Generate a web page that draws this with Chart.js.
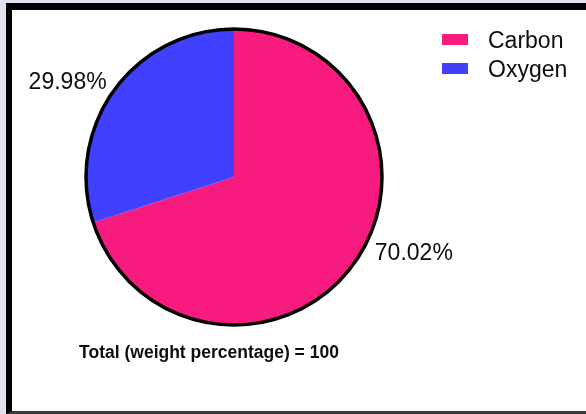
<!DOCTYPE html>
<html>
<head>
<meta charset="utf-8">
<script src="https://cdn.jsdelivr.net/npm/chart.js@4"></script>
<style>
    body { margin: 0; background: #dfe2ef; }
    .frame {
        position: absolute;
        left: 6px;
        top: 3px;
        width: 580px;
        height: 411px;
        box-sizing: border-box;
        border-left: 6px solid #000;
        border-top: 7px solid #000;
        border-bottom: 3px solid #3b3b3b;
        background: #fff;
    }
    .chart-box { position: relative; width: 574px; height: 401px; }
</style>
</head>
<body>
<div class="frame">
    <div class="chart-box"><canvas id="pieChart"></canvas></div>
</div>
<script>
// --- Data ---
const categories = ['Carbon', 'Oxygen'];
const weightPct = [70.02, 29.98];
const sliceColors = ['#f71a7f', '#4040fe'];
const totalText = 'Total (weight percentage) = 100';

const FONT = '"Liberation Sans", Arial, Helvetica, sans-serif';

// black rim round the whole pie (no lines between slices)
const rimPlugin = {
    id: 'rim',
    afterDatasetsDraw(chart) {
        const arc = chart.getDatasetMeta(0).data[0];
        if (!arc) return;
        const ctx = chart.ctx;
        ctx.save();
        ctx.beginPath();
        ctx.arc(arc.x, arc.y, arc.outerRadius, 0, Math.PI * 2);
        ctx.lineWidth = 3.5;
        ctx.strokeStyle = '#000';
        ctx.stroke();
        ctx.restore();
    }
};

// percentage labels outside the slices
const sliceLabels = {
    id: 'sliceLabels',
    afterDraw(chart, args, opts) {
        const ctx = chart.ctx;
        const arcs = chart.getDatasetMeta(0).data;
        ctx.save();
        ctx.font = '23px ' + FONT;
        ctx.fillStyle = '#0d0d0d';
        ctx.textBaseline = 'middle';
        arcs.forEach((arc, i) => {
            const a = opts.angles[i] * Math.PI / 180;
            const r = arc.outerRadius + opts.gap;
            const x = arc.x + Math.cos(a) * r;
            const y = arc.y + Math.sin(a) * r;
            ctx.textAlign = Math.cos(a) >= 0 ? 'left' : 'right';
            ctx.fillText(weightPct[i].toFixed(2) + '%', x, y + 2);
        });
        ctx.restore();
    }
};

// legend in the top right corner + total line under the pie
const sideLegend = {
    id: 'sideLegend',
    afterDraw(chart) {
        const ctx = chart.ctx;
        ctx.save();
        categories.forEach((name, i) => {
            const y = 24 + i * 29;
            ctx.fillStyle = sliceColors[i];
            ctx.fillRect(430, y, 26, 11);
            ctx.fillStyle = '#0d0d0d';
            ctx.font = '23px ' + FONT;
            ctx.textAlign = 'left';
            ctx.textBaseline = 'alphabetic';
            ctx.fillText(name, 476, y + 14);
        });
        ctx.font = 'bold 17.5px ' + FONT;
        ctx.textAlign = 'center';
        ctx.fillText(totalText, 197, 348);
        ctx.restore();
    }
};

const pieChart = new Chart(document.getElementById('pieChart'), {
    type: 'pie',
    data: {
        labels: categories,
        datasets: [{
            data: weightPct,
            backgroundColor: sliceColors,
            borderWidth: 0,
            hoverOffset: 0
        }]
    },
    options: {
        responsive: true,
        maintainAspectRatio: false,
        animation: false,
        radius: 148,
        layout: { padding: { left: 0, top: 0, right: 130, bottom: 67 } },
        plugins: {
            legend: { display: false },
            tooltip: { enabled: false },
            sliceLabels: { angles: [28, 217], gap: 11.5 }
        }
    },
    plugins: [rimPlugin, sliceLabels, sideLegend]
});
</script>
</body>
</html>
